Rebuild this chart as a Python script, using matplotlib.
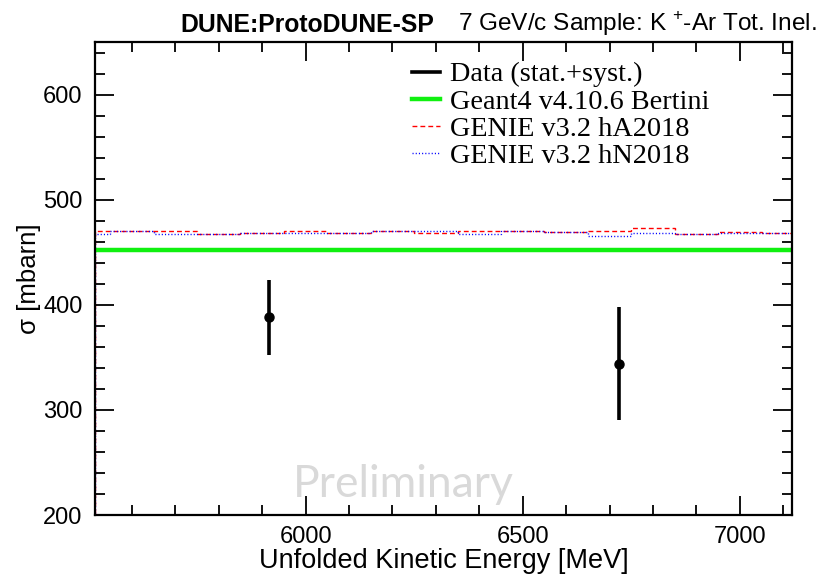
import matplotlib
matplotlib.use("Agg")
import matplotlib.pyplot as plt
from matplotlib.ticker import MultipleLocator
from matplotlib.lines import Line2D

# datos
bin_edges = [5516, 5550, 5650, 5750, 5850, 5950, 6050, 6150, 6250, 6350,
             6450, 6550, 6650, 6750, 6850, 6950, 7050, 7150]
genie_hA = [470.5, 470.5, 470.5, 467.0, 468.3, 469.9, 468.3, 470.5, 468.3,
            470.5, 470.5, 468.9, 470.5, 473.0, 467.0, 468.9, 468.5]
genie_hN = [467.5, 470.5, 467.3, 467.0, 468.3, 468.3, 468.3, 470.5, 470.5,
            467.3, 470.5, 468.9, 465.7, 468.0, 467.0, 468.0, 468.0]
geant4 = 452.4

data_x = [5916, 6722]
data_y = [388, 344]
data_err = [35.5, 54]

etiquetas = ['Data (stat.+syst.)', 'Geant4 v4.10.6 Bertini', 'GENIE v3.2 hA2018', 'GENIE v3.2 hN2018']

plt.rcParams['font.family'] = ['Liberation Sans', 'DejaVu Sans']
plt.rcParams['mathtext.fontset'] = 'custom'
plt.rcParams['mathtext.rm'] = 'Liberation Sans'

fig = plt.figure(figsize=(8.31, 5.76), dpi=100)
ax = fig.add_axes([0.1143, 0.1059, 0.8387, 0.8212])

rojo = dict(color='red', lw=1.0, linestyle=(0, (3.5, 2.2)))
azul = dict(color='blue', lw=1.0, linestyle=(0, (0.8, 1.5)))

ax.stairs(genie_hA, bin_edges, baseline=0, **rojo)
ax.stairs(genie_hN, bin_edges, baseline=0, **azul)
ax.axhline(geant4, color='#10f010', lw=3.2)
ax.errorbar(data_x, data_y, yerr=data_err, fmt='o', color='black', ms=6.5,
            elinewidth=2.6, capsize=0)

ax.set_xlim(5515, 7120)
ax.set_ylim(200, 650)
ax.xaxis.set_major_locator(MultipleLocator(500))
ax.xaxis.set_minor_locator(MultipleLocator(100))
ax.yaxis.set_major_locator(MultipleLocator(100))
ax.yaxis.set_minor_locator(MultipleLocator(20))
ax.tick_params(which='both', direction='in', top=True, right=True, width=1.3,
               labelsize=17)
ax.tick_params(which='major', length=14)
ax.tick_params(which='minor', length=7)
ax.tick_params(axis='x', pad=8)
ax.tick_params(axis='y', pad=9)
for s in ax.spines.values():
    s.set_linewidth(1.6)

ax.set_xlabel('Unfolded Kinetic Energy [MeV]', fontsize=19.5, va='bottom')
ax.xaxis.set_label_coords(0.5, -0.125)
ax.set_ylabel('σ [mbarn]', fontsize=18.5, va='center')
ax.yaxis.set_label_coords(-0.094, 0.5)

# leyenda
hh = [Line2D([], [], color='black', lw=2.6),
      Line2D([], [], color='#10f010', lw=3.2),
      Line2D([], [], **rojo),
      Line2D([], [], **azul)]
ax.legend(hh, etiquetas, loc='upper left', bbox_to_anchor=(0.426, 1.0), frameon=False,
          prop={'family': 'Liberation Serif', 'size': 20.3}, handlelength=1.0,
          handletextpad=0.35, labelspacing=0.05, borderpad=0.2)

ax.text(0.443, 0.038, 'Preliminary', transform=ax.transAxes, ha='center',
        va='baseline', fontsize=32, color='#d9d9d9', family=['Lato', 'Open Sans'])

fig.text(180 / 831, 1 - 32 / 576, 'DUNE:ProtoDUNE-SP', fontsize=17.8, fontweight='bold',
         ha='left', va='baseline')
fig.text(458 / 831, 1 - 31 / 576, '7 GeV/c Sample: K $^{+}$-Ar Tot. Inel.', fontsize=17.6,
         ha='left', va='baseline')

fig.savefig('out.png', dpi=100)
